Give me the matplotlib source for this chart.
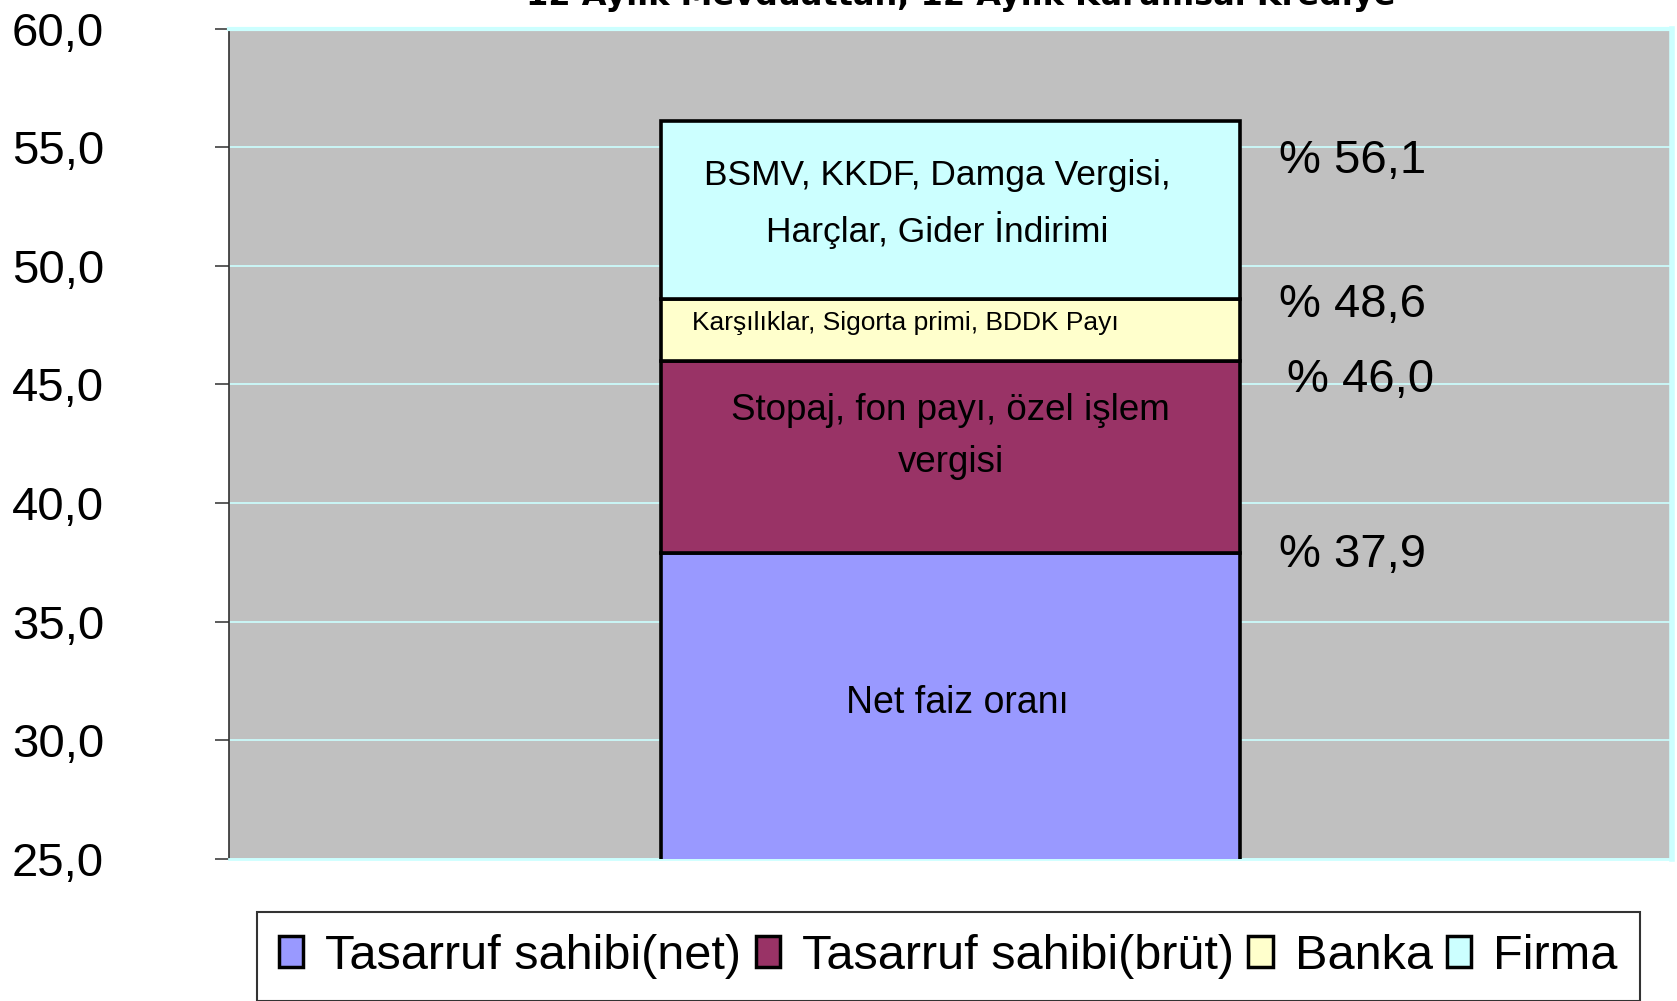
import numpy as np
import matplotlib
matplotlib.use("Agg")
import matplotlib.pyplot as plt

# Veriler
seriler = ["Tasarruf sahibi(net)", "Tasarruf sahibi(brüt)", "Banka", "Firma"]
kumulatif = [37.9, 46.0, 48.6, 56.1]          # yığılmış çubuğun üst seviyeleri
renkler = ["#9999FF", "#993366", "#FFFFCC", "#CCFFFF"]
aciklamalar = ["Net faiz oranı",
               "Stopaj, fon payı, özel işlem\nvergisi",
               "Karşılıklar, Sigorta primi, BDDK Payı",
               "BSMV, KKDF, Damga Vergisi,\nHarçlar, Gider İndirimi"]
y_ticks = [25, 30, 35, 40, 45, 50, 55, 60]
baslik = "12 Aylık Mevduattan, 12 Aylık Kurumsal Krediye"

plt.rcParams['font.family'] = ["Liberation Sans", 'DejaVu Sans']

def virgul(v):
    return f"{v:.1f}".replace('.', ',')

fig = plt.figure(figsize=(16.77, 10.01), dpi=100)
ax = fig.add_axes([229/1677, 1 - 858.7/1001, (1672-229)/1677, (858.7-28.7)/1001])
ax.set_facecolor("#C0C0C0")

# Çubuklar
alt = np.concatenate([[0], kumulatif[:-1]])
yukseklik = np.diff(np.concatenate([[0], kumulatif]))
for i in range(len(seriler)):
    ax.bar(0, yukseklik[i], bottom=alt[i], width=0.401, color=renkler[i],
           edgecolor="black", linewidth=2.6, label=seriler[i], zorder=3)

ax.set_xlim(-0.5, 0.5)
ax.set_ylim(25, 60)
ax.set_yticks(y_ticks)
ax.set_yticklabels([virgul(t) for t in y_ticks], fontsize=34)
ax.set_xticks([])
ax.tick_params(axis='y', direction='out', length=10, width=1.2, color="#404040", pad=80)
ax.yaxis.grid(True, color="#CCFFFF", linewidth=1.2, zorder=1)
ax.set_axisbelow(True)

ax.spines['left'].set_color("#303030")
ax.spines['left'].set_linewidth(1.2)
ax.spines['bottom'].set_color("#CCFFFF")
ax.spines['bottom'].set_linewidth(2)
ax.spines['top'].set_color("#CCFFFF")
ax.spines['top'].set_linewidth(3)
ax.spines['right'].set_color("#CCFFFF")
ax.spines['right'].set_linewidth(4)

# Çubuk içi açıklamalar
aciklama_y = [31.57, 42.8, 47.6, 52.6]
aciklama_x = [0.005, 0.0, -0.031, -0.009]
aciklama_boy = [27, 26.5, 19, 25.5]
for i in range(len(aciklamalar)):
    ax.text(aciklama_x[i], aciklama_y[i], aciklamalar[i], ha='center', va='center',
            fontsize=aciklama_boy[i], linespacing=1.62, zorder=4)

# Yüzde etiketleri
etiket_y = [37.82, 45.17, 48.35, 54.44]
etiket_x = [0.2277, 0.2332, 0.2277, 0.2277]
for i in range(len(kumulatif)):
    ax.text(etiket_x[i], etiket_y[i], "% " + virgul(kumulatif[i]), ha='left', va='center',
            fontsize=34, zorder=4)

# Başlık (üstü kesik, referanstaki gibi)
fig.text(0.573, 1 - 5/1001, baslik, ha='center', va='baseline', fontsize=23,
         fontweight='bold', family='DejaVu Sans')

# Lejant
leg = fig.legend(loc='upper left', bbox_to_anchor=(257/1677, 1 - 912/1001), ncol=4,
                 fontsize=35, frameon=True, fancybox=False, borderaxespad=0,
                 handlelength=0.5, handleheight=0.6, handletextpad=0.45,
                 columnspacing=0.3, borderpad=0.45)
leg.get_frame().set_edgecolor("black")
leg.get_frame().set_linewidth(1.5)
for h in leg.legend_handles:
    h.set_linewidth(2.5)

fig.savefig("out.png", dpi=100)
